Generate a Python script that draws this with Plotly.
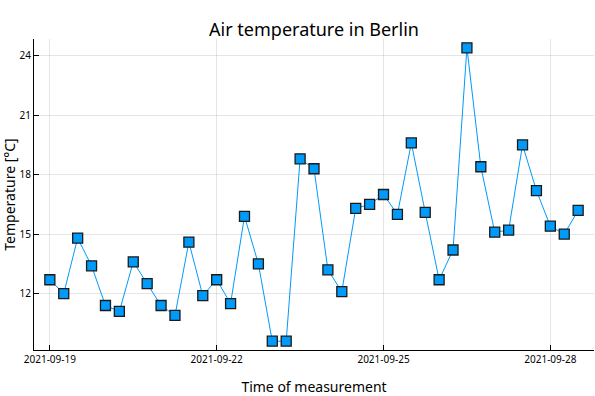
import pandas as pd
import plotly.graph_objects as go

start_time = "2021-09-19 00:00"
n_points = 39
step = "6h"
temperature = [12.7, 12.0, 14.8, 13.4, 11.4, 11.1, 13.6, 12.5, 11.4, 10.9,
               14.6, 11.9, 12.7, 11.5, 15.9, 13.5, 9.6, 9.6, 18.8, 18.3,
               13.2, 12.1, 16.3, 16.5, 17.0, 16.0, 19.6, 16.1, 12.7, 14.2,
               24.4, 18.4, 15.1, 15.2, 19.5, 17.2, 15.4, 15.0, 16.2]
y_ticks = [12, 15, 18, 21, 24]
x_tick_labels = ["2021-09-19", "2021-09-22", "2021-09-25", "2021-09-28"]

times = pd.date_range(start_time, periods=n_points, freq=step)

span = times[-1] - times[0]
xpad = span * 0.03
ymin, ymax = min(temperature), max(temperature)
ypad = (ymax - ymin) * 0.03

font = "Noto Sans"
grid = "rgba(0,0,0,0.1)"

fig = go.Figure(go.Scatter(
    x=times, y=temperature, mode="lines+markers",
    line=dict(color="#009af9", width=1),
    marker=dict(symbol="square", size=10, color="#009af9",
                line=dict(color="#1a1a1a", width=1.3)),
    showlegend=False,
))

fig.update_layout(
    width=595, height=396,
    margin=dict(l=34, r=1, t=39, b=46, autoexpand=False),
    paper_bgcolor="white", plot_bgcolor="white",
    font=dict(family=font, color="black"),
    title=dict(text="Air temperature in Berlin", x=(34 + 594) / 2 / 595, xanchor="center",
               y=1 - 30 / 396, yanchor="middle", font=dict(size=18, family=font)),
)
fig.update_xaxes(
    type="date", automargin=False,
    range=[times[0] - xpad, times[-1] + xpad],
    tickvals=pd.to_datetime(x_tick_labels), ticktext=x_tick_labels,
    ticks="inside", ticklen=5, tickcolor="black",
    showline=True, linecolor="black", linewidth=1,
    showgrid=True, gridcolor=grid, gridwidth=1, zeroline=False,
    tickfont=dict(size=10),
    title=dict(text="Time of measurement", font=dict(size=14), standoff=17),
)
fig.update_yaxes(
    automargin=False,
    range=[ymin - ypad, ymax + ypad],
    tickvals=y_ticks,
    ticks="inside", ticklen=5, tickcolor="black",
    showline=True, linecolor="black", linewidth=1,
    showgrid=True, gridcolor=grid, gridwidth=1, zeroline=False,
    tickfont=dict(size=10),
    title=dict(text="Temperature [°C]", font=dict(size=14), standoff=6),
)

fig.write_html("out.html", config={"displayModeBar": False},
               post_script="document.body.style.margin='0px';")
